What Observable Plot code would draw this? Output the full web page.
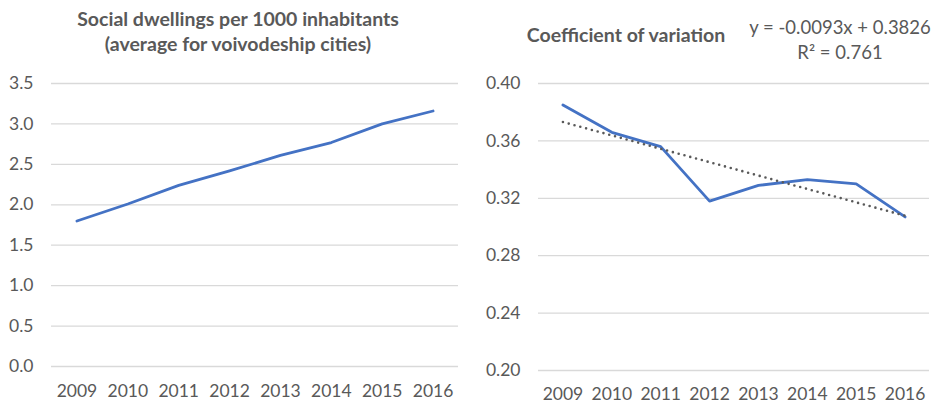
<!DOCTYPE html>
<html><head><meta charset="utf-8">
<script src="https://cdn.jsdelivr.net/npm/d3@7"></script>
<script src="https://cdn.jsdelivr.net/npm/@observablehq/plot@0.6"></script>
<style>
body{margin:0;background:#fff;font-family:Lato,sans-serif;}
#wrap{position:relative;width:937px;height:406px;overflow:hidden;background:#fff;}
.p{position:absolute;top:0;}
.t{position:absolute;color:#595959;text-align:center;white-space:nowrap;transform:translate(-50%,-50%);line-height:25px;}
.b{font-weight:bold;font-size:19.5px;}
.n{font-size:18.5px;}
</style></head><body>
<div id="wrap"></div>
<script>
// ---- data ----
const years = [2009, 2010, 2011, 2012, 2013, 2014, 2015, 2016];
const dwellings = [1.80, 2.01, 2.24, 2.42, 2.61, 2.77, 3.00, 3.16];
const cov = [0.385, 0.366, 0.356, 0.318, 0.329, 0.333, 0.330, 0.307];
const leftTicks = [0, 0.5, 1.0, 1.5, 2.0, 2.5, 3.0, 3.5];
const rightTicks = [0.20, 0.24, 0.28, 0.32, 0.36, 0.40];
const leftTitle = ["Social dwellings per 1000 inhabitants", "(average for voivodeship cities)"];
const rightTitle = "Coefficient of variation";
const trendText = ["y = -0.0093x + 0.3826", "R² = 0.761"];

const blue = "#4472C4", grid = "#d9d9d9", txt = "#595959";
const wrap = document.getElementById("wrap");
const style = {fontFamily: "Lato, sans-serif", fontSize: "17.5px", color: txt, background: "transparent", overflow: "visible"};

const leftData = years.map((y, i) => ({year: y, value: dwellings[i]}));
const rightData = years.map((y, i) => ({year: y, value: cov[i]}));

const left = Plot.plot({
  width: 470, height: 406,
  marginLeft: 51, marginRight: 12, marginTop: 83, marginBottom: 40,
  style,
  x: {type: "linear", domain: [2008.5, 2016.5]},
  y: {domain: [0, 3.5]},
  marks: [
    Plot.gridY(leftTicks, {stroke: grid, strokeOpacity: 1, strokeWidth: 1.3}),
    Plot.axisY(leftTicks, {tickSize: 0, tickPadding: 18, tickFormat: d3.format(".1f"), label: null, fill: txt}),
    Plot.axisX(years, {tickSize: 0, tickPadding: 18, tickFormat: "d", label: null, fill: txt}),
    Plot.line(leftData, {x: "year", y: "value", stroke: blue, strokeWidth: 2.8, strokeLinejoin: "round"})
  ]
});
left.classList.add("p"); left.style.left = "0px";
wrap.appendChild(left);

const right = Plot.plot({
  width: 467, height: 406,
  marginLeft: 68, marginRight: 8, marginTop: 83, marginBottom: 36,
  style,
  x: {type: "linear", domain: [2008.5, 2016.5]},
  y: {domain: [0.20, 0.40]},
  marks: [
    Plot.gridY(rightTicks, {stroke: grid, strokeOpacity: 1, strokeWidth: 1.3}),
    Plot.axisY(rightTicks, {tickSize: 0, tickPadding: 18, tickFormat: d3.format(".2f"), label: null, fill: txt}),
    Plot.axisX(years, {tickSize: 0, tickPadding: 17, tickFormat: "d", label: null, fill: txt}),
    Plot.line(rightData, {x: "year", y: "value", stroke: blue, strokeWidth: 2.8, strokeLinejoin: "round"}),
    Plot.linearRegressionY(rightData, {x: "year", y: "value", ci: 0, stroke: txt, strokeWidth: 2.6, strokeDasharray: "0,6", strokeLinecap: "round"})
  ]
});
right.classList.add("p"); right.style.left = "470px";
wrap.appendChild(right);

function label(text, x, y, cls) {
  const d = document.createElement("div");
  d.className = "t " + cls;
  d.style.left = x + "px"; d.style.top = y + "px";
  d.textContent = text;
  wrap.appendChild(d);
}
label(leftTitle[0], 238, 18, "b");
label(leftTitle[1], 238, 43, "b");
label(rightTitle, 626, 34, "b");
label(trendText[0], 840, 27, "n");
label(trendText[1], 840, 52, "n");
</script>
</body></html>
